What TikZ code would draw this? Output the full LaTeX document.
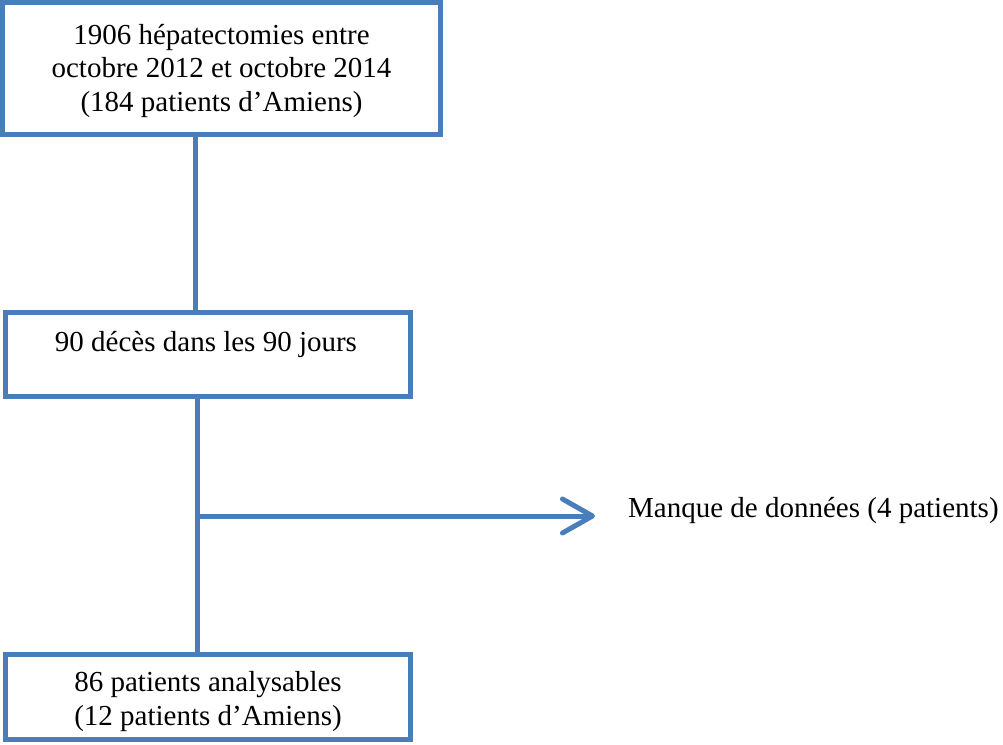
\documentclass[tikz,border=0pt]{standalone}
\usepackage{fontspec}
\setmainfont{Liberation Serif}
\usetikzlibrary{arrows.meta}
\definecolor{flowblue}{HTML}{4A7EBB}
\tikzset{
  flowbox/.style={draw=flowblue, line width=5pt, rectangle, inner sep=0pt},
  flowtext/.style={inner sep=0pt, align=center, font=\fontsize{29}{33.5}\selectfont},
  flowline/.style={draw=flowblue, line width=5pt},
  flowarrow/.style={draw=flowblue, line width=5pt, -{Straight Barb[length=30pt,width=34pt,round]}}
}
\begin{document}
\begin{tikzpicture}[x=1pt,y=-1pt]
\useasboundingbox (0,0) rectangle (1003,744);
% boxes
\node[flowbox, minimum width=438pt, minimum height=132pt] (b1) at (221.5,68.5) {};
\node[flowtext] (t1) at (221.5,71)
  {1906 hépatectomies entre\\octobre 2012 et octobre 2014\\(184 patients d’Amiens)};
\node[flowbox, minimum width=405pt, minimum height=84pt] (b2) at (208,354.5) {};
\node[flowtext, anchor=base] (t2) at (206,351) {90 décès dans les 90 jours};
\node[flowbox, minimum width=405pt, minimum height=85.5pt] (b3) at (208,696.75) {};
\node[flowtext] (t3) at (208,701.5)
  {86 patients analysables\\(12 patients d’Amiens)};
\node[flowtext, anchor=base west] (m) at (628,517) {Manque de données (4 patients)};
% connectors
\coordinate (x1) at (195,0);
\coordinate (x2) at (197,516);
\coordinate (tip) at (595,516);
\draw[flowline] (b1.south -| x1) -- (b2.north -| x1);
\draw[flowline] (b2.south -| x2) -- (b3.north -| x2);
\draw[flowarrow] (x2) -- (tip);
\end{tikzpicture}
\end{document}
